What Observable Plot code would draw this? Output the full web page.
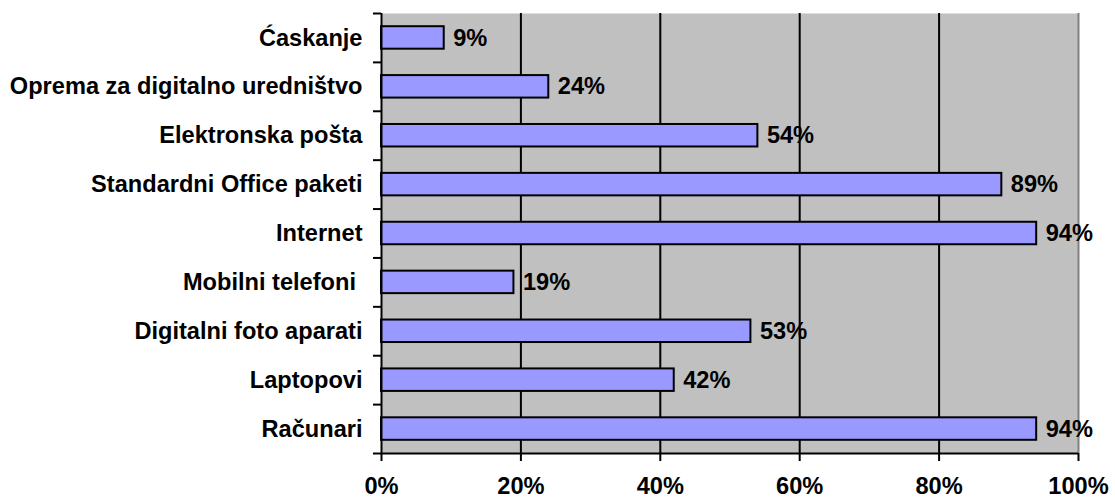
<!DOCTYPE html>
<html>
<head>
<meta charset="utf-8">
<script src="https://cdn.jsdelivr.net/npm/d3@7"></script>
<script src="https://cdn.jsdelivr.net/npm/@observablehq/plot@0.6"></script>
<style>
  html, body { margin: 0; padding: 0; background: white; }
</style>
</head>
<body>
<div id="chart"></div>
<script>
// Categories listed top to bottom
const categories = [
  "Ćaskanje",
  "Oprema za digitalno uredništvo",
  "Elektronska pošta",
  "Standardni Office paketi",
  "Internet",
  "Mobilni telefoni\u00a0",
  "Digitalni foto aparati",
  "Laptopovi",
  "Računari"
];
const values = [9, 24, 54, 89, 94, 19, 53, 42, 94];
const xTicks = [0, 20, 40, 60, 80, 100];
const gridTicks = [20, 40, 60, 80];

const data = categories.map((c, i) => ({category: c, i, value: values[i]}));
const n = categories.length;

const chart = Plot.plot({
  width: 1115,
  height: 501,
  marginLeft: 381,
  marginRight: 37,
  marginTop: 13,
  marginBottom: 48,
  style: {
    fontFamily: "'Liberation Sans', Arial, sans-serif",
    fontSize: "23.6px",
    fontWeight: "bold",
    color: "black",
    background: "white",
    overflow: "visible"
  },
  x: {domain: [0, 100], label: null},
  y: {domain: [n, 0], label: null},
  marks: [
    Plot.frame({fill: "#c0c0c0", stroke: null}),
    Plot.ruleX(gridTicks, {stroke: "black", strokeWidth: 2}),
    Plot.ruleX([100], {stroke: "#808080", strokeWidth: 2}),
    Plot.rectX(data, {
      x1: 0, x2: "value",
      y1: d => d.i + 0.27, y2: d => d.i + 0.73,
      fill: "#9999ff", stroke: "black", strokeWidth: 2
    }),
    Plot.ruleX([0], {stroke: "black", strokeWidth: 2}),
    Plot.ruleY([n], {stroke: "black", strokeWidth: 2}),
    Plot.text(data, {
      x: "value", y: d => d.i + 0.5, text: d => d.value + "%",
      textAnchor: "start", dx: 9, fill: "black"
    }),
    Plot.axisX({
      ticks: xTicks, tickSize: 8, tickPadding: 16,
      tickFormat: d => d + "%", strokeWidth: 2, label: null
    }),
    Plot.axisY({
      ticks: d3.range(n + 1), tickSize: 8, tickFormat: () => "",
      strokeWidth: 2, label: null
    }),
    Plot.axisY({
      ticks: categories.map((c, i) => i + 0.5), tickSize: 0, tickPadding: 19,
      tickFormat: v => categories[Math.floor(v)], label: null
    })
  ]
});
document.getElementById("chart").appendChild(chart);
</script>
</body>
</html>
